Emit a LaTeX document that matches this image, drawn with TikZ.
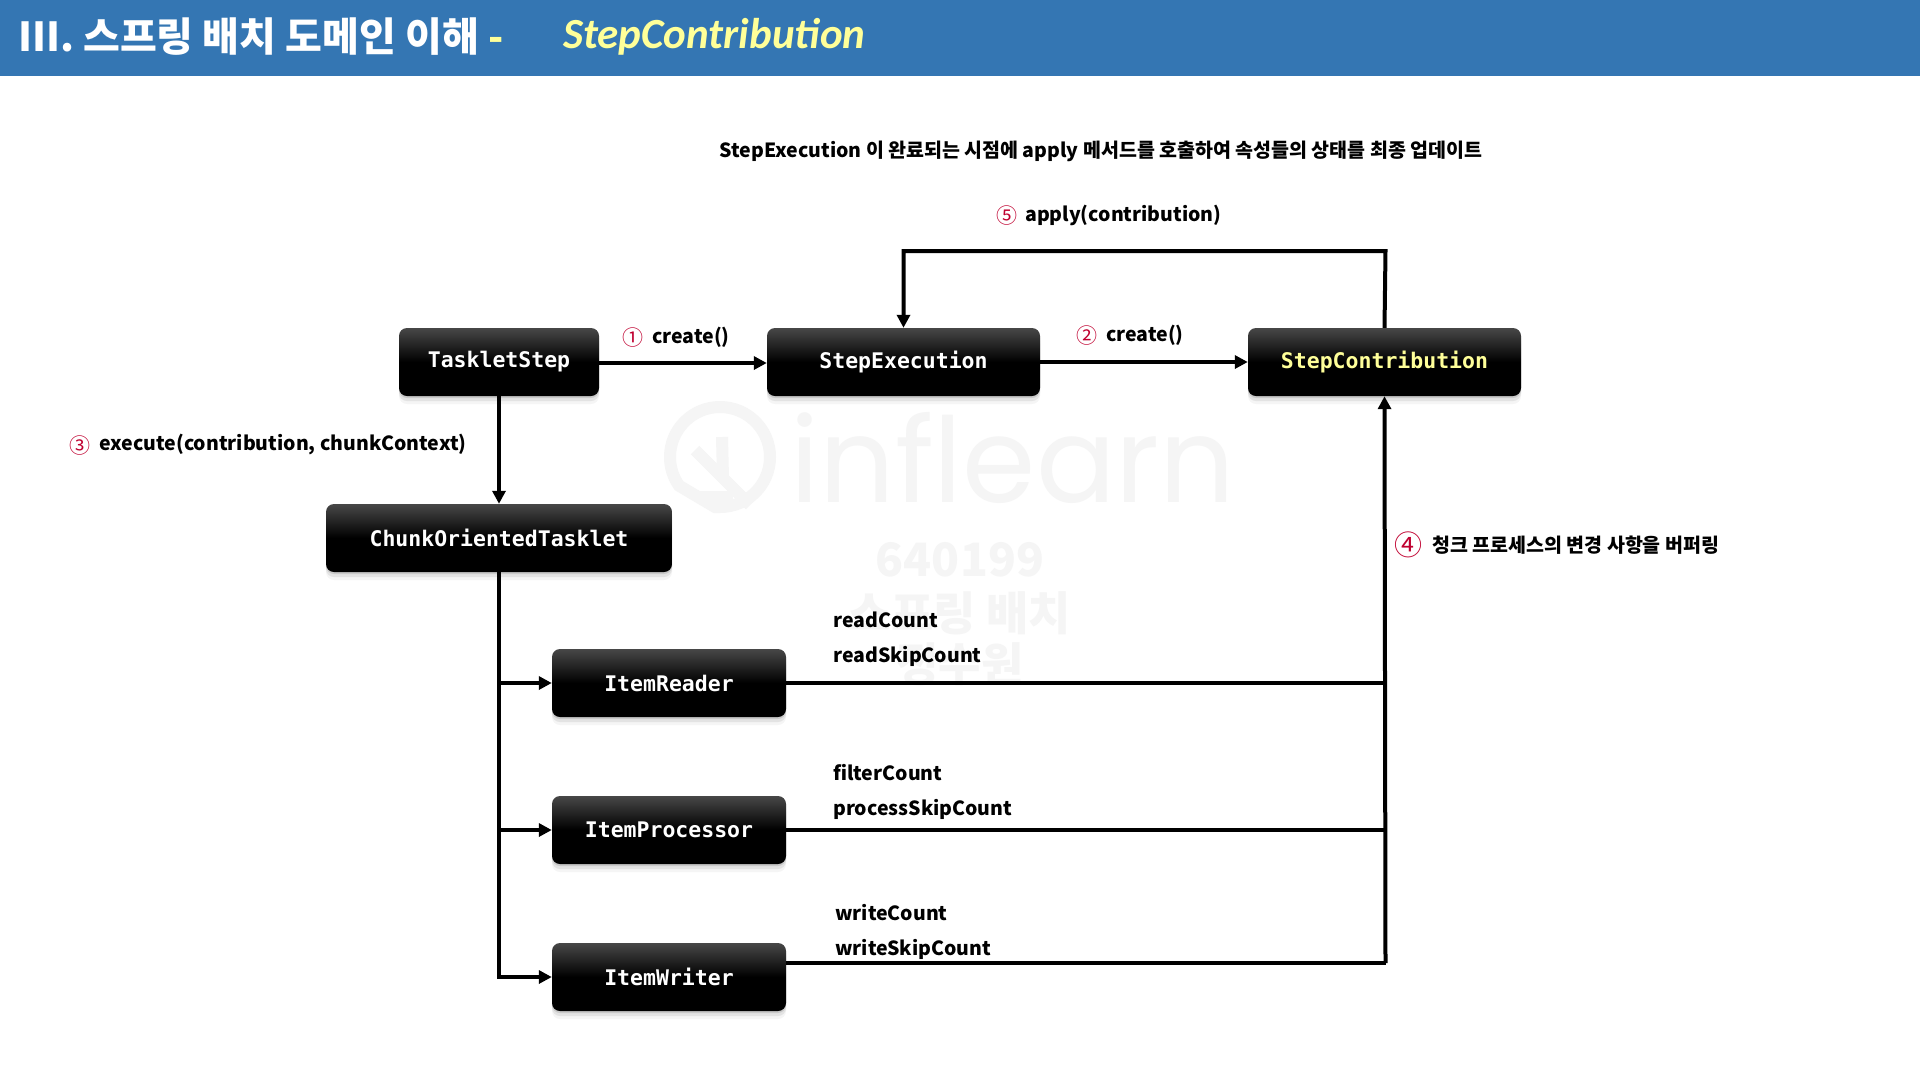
\documentclass[tikz,border=0pt]{standalone}
\usepackage{fontspec}
\setmainfont{Noto Sans CJK KR}
\newfontfamily\boxfont{DejaVu Sans Mono}
\newfontfamily\slantfont{Carlito}
\newfontfamily\logofont{Poppins}
\usetikzlibrary{shadows,arrows.meta}
\definecolor{headblue}{HTML}{3476B3}
\definecolor{paleyellow}{HTML}{FFFF99}
\definecolor{markred}{HTML}{C00030}
\definecolor{markgray}{HTML}{F5F5F5}
\tikzset{
	blackbox/.style={rounded corners=8pt, minimum height=68pt, inner sep=0pt, text=white,
		top color=black!72, bottom color=black, middle color=black, shading angle=0,
		font=\boxfont\bfseries\fontsize{21.5}{24}\selectfont,
		drop shadow={shadow xshift=0pt, shadow yshift=-2pt, opacity=.25},
		drop shadow={shadow xshift=0pt, shadow yshift=-5pt, opacity=.15},
		drop shadow={shadow xshift=0pt, shadow yshift=-8pt, opacity=.08}},
	note/.style={inner sep=0pt, anchor=west, font=\bfseries\fontsize{19.5}{22}\selectfont},
	conn/.style={line width=4pt, -{Triangle[length=13pt, width=13pt]}},
	plainconn/.style={line width=4pt},
	circlemark/.style={text=markred, inner sep=0pt, font=\fontsize{21}{24}\selectfont},
	watermark/.style={inner sep=0pt, text=markgray, font=\bfseries\fontsize{46}{50}\selectfont},
	logostroke/.style={draw=markgray, line width=12pt}
}
\begin{document}
\begin{tikzpicture}[x=1pt, y=-1pt]
	\useasboundingbox (0, 0) rectangle (1920, 1080);
	\fill[white] (0, 0) rectangle (1920, 1080);
	\fill[headblue] (0, 0) rectangle (1920, 76);
	\node[inner sep=0pt, anchor=west, text=white, font=\bfseries\fontsize{40}{44}\selectfont] (title) at (18, 37) {III. 스프링 배치 도메인 이해 \textcolor{paleyellow}{-}};
	\node[inner sep=0pt, anchor=west, text=paleyellow, font=\slantfont\bfseries\itshape\fontsize{43}{46}\selectfont] (titlename) at (563, 37) {StepContribution};
	%%
	\draw[logostroke] (715, 507) arc (90:-270:0 and 0) -- (720, 507) arc (90:-215:50) -- cycle;
	\draw[logostroke] (695, 450) -- (750, 505);
	\draw[logostroke] (723, 478) -- (722, 437);
	\draw[logostroke] (700, 497) -- (733, 497);
	\node[watermark, font=\logofont\fontsize{118}{120}\selectfont] (wminf) at (1013, 458) {inflearn};
	\node[watermark] (wmnum) at (960, 560) {640199};
	\node[watermark] (wmname) at (960, 613) {스프링 배치};
	\node[watermark] (wmuser) at (960, 664) {정수원};
	%%
	\node[blackbox, minimum width=200pt] (taskletstep) at (499, 362) {TaskletStep};
	\node[blackbox, minimum width=273pt] (stepexecution) at (903.5, 362) {StepExecution};
	\node[blackbox, minimum width=273pt, text=paleyellow] (stepcontribution) at (1384.5, 362) {StepContribution};
	\node[blackbox, minimum width=346pt] (chunktasklet) at (499, 538) {ChunkOrientedTasklet};
	\node[blackbox, minimum width=234pt] (itemreader) at (669, 683) {ItemReader};
	\node[blackbox, minimum width=234pt] (itemprocessor) at (669, 830) {ItemProcessor};
	\node[blackbox, minimum width=234pt] (itemwriter) at (669, 977) {ItemWriter};
	%%
	\coordinate (looptop) at (1385.5, 251);
	\coordinate (joinreader) at (1385.5, 683);
	\coordinate (joinprocessor) at (1385.5, 830);
	\coordinate (joinwriter) at (1385.5, 963);
	\coordinate (busreader) at (499, 683);
	\coordinate (busprocessor) at (499, 830);
	\coordinate (buswriter) at (499, 977);
	%%
	\draw[conn] (taskletstep.east |- 0, 363) -- (stepexecution.west |- 0, 363);
	\draw[conn] (stepexecution.east) -- (stepcontribution.west);
	\draw[conn] (taskletstep.south) -- (chunktasklet.north);
	\draw[conn] (stepcontribution.north) -- (looptop) -| (stepexecution.north);
	%%
	\draw[plainconn] (chunktasklet.south) -- (buswriter);
	\draw[conn] (busreader) -- (itemreader.west);
	\draw[conn] (busprocessor) -- (itemprocessor.west);
	\draw[conn, line join=miter] (499, 975) -- (buswriter) -- (itemwriter.west);
	%%
	\draw[plainconn] (itemreader.east) -- (joinreader);
	\draw[plainconn] (itemprocessor.east) -- (joinprocessor);
	\draw[plainconn] (itemwriter.east |- joinwriter) -- (joinwriter);
	\draw[conn] (joinwriter) -- (stepcontribution.south);
	%%
	\node[note, anchor=center] (headnote) at (1101, 151) {StepExecution 이 완료되는 시점에 apply 메서드를 호출하여 속성들의 상태를 최종 업데이트};
	\node[circlemark] (markfive) at (1007, 216) {⑤};
	\node[note] (applylabel) at (1025, 215) {apply(contribution)};
	\node[circlemark] (markone) at (633, 338) {①};
	\node[note] (createone) at (652, 337) {create()};
	\node[circlemark] (marktwo) at (1087, 336) {②};
	\node[note] (createtwo) at (1106, 335) {create()};
	\node[circlemark] (markthree) at (80, 446) {③};
	\node[note] (executelabel) at (99, 445) {execute(contribution, chunkContext)};
	\node[circlemark, font=\fontsize{28}{30}\selectfont] (markfour) at (1408, 545) {④};
	\node[note] (bufferlabel) at (1432, 545) {청크 프로세스의 변경 사항을 버퍼링};
	%%
	\node[note] (readcount) at (833, 620) {readCount};
	\node[note] (readskip) at (833, 656) {readSkipCount};
	\node[note] (filtercount) at (833, 773) {filterCount};
	\node[note] (processskip) at (833, 809) {processSkipCount};
	\node[note] (writecount) at (835, 913) {writeCount};
	\node[note] (writeskip) at (835, 949) {writeSkipCount};
\end{tikzpicture}
\end{document}
